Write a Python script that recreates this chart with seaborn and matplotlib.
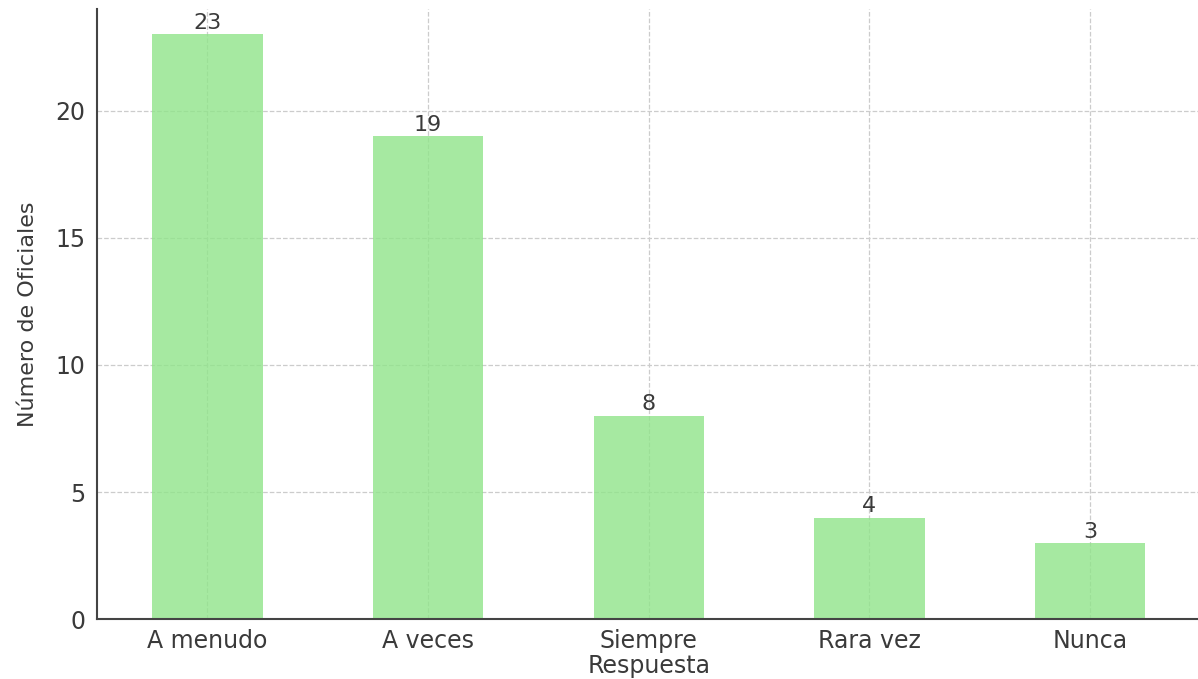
import matplotlib
matplotlib.use("Agg")
import matplotlib.pyplot as plt
import pandas as pd
import seaborn as sns

# answers and how many officers gave each one
respuestas = ["A menudo", "A veces", "Siempre", "Rara vez", "Nunca"]
oficiales = [23, 19, 8, 4, 3]
y_ticks = [0, 5, 10, 15, 20]

df = pd.DataFrame({"Respuesta": respuestas, "Oficiales": oficiales})

sns.set_style("white")
plt.rcParams["font.family"] = ["DejaVu Sans"]
text_color = "#3a3a3a"

fig = plt.figure(figsize=(11.98, 6.79), dpi=100)
ax = fig.add_axes([0.081, 0.088, 0.921, 0.899])

sns.barplot(data=df, x="Respuesta", y="Oficiales", color="#90e48a", alpha=0.8,
            width=0.5, saturation=1, linewidth=0, ax=ax)

ax.set_xlim(-0.5, len(respuestas) - 0.5)
ax.set_ylim(0, 24)
ax.set_yticks(y_ticks)
ax.grid(True, linestyle="--", color="#cccccc", linewidth=0.9)
ax.set_axisbelow(True)

ax.bar_label(ax.containers[0], fontsize=16, color=text_color, padding=1)

ax.set_xlabel("Respuesta", fontsize=17, color=text_color, labelpad=1)
ax.set_ylabel("Número de Oficiales", fontsize=16, color=text_color, labelpad=12)
ax.tick_params(axis="both", labelsize=17, colors=text_color, length=5, width=1.2)
ax.tick_params(axis="x", pad=2)

for side in ["top", "right"]:
    ax.spines[side].set_visible(False)
for side in ["left", "bottom"]:
    ax.spines[side].set_color("#444444")
    ax.spines[side].set_linewidth(1.5)

fig.savefig("out.png", dpi=100)
plt.close(fig)
